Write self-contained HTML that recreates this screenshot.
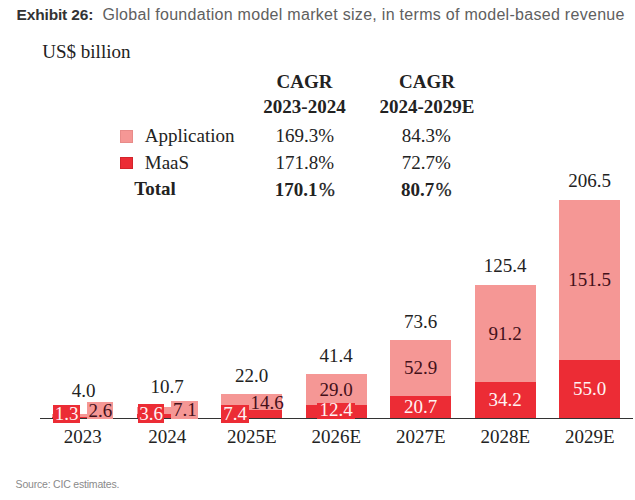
<!DOCTYPE html>
<html><head><meta charset="utf-8"><style>
html,body{margin:0;padding:0;background:#fff;}
body{width:635px;height:500px;position:relative;overflow:hidden;}
.t{position:absolute;white-space:nowrap;}
.r{position:absolute;}
</style></head><body>
<div class="t" style="left:16.50px;top:7.08px;font-size:15.5px;line-height:15.5px;font-family:'Liberation Sans', sans-serif;font-weight:normal;color:#222;letter-spacing:-0.15px;"><b style="color:#333">Exhibit 26:</b></div>
<div class="t" style="left:102.50px;top:6.66px;font-size:16px;line-height:16px;font-family:'Liberation Sans', sans-serif;font-weight:normal;color:#606060;letter-spacing:0.29px;">Global foundation model market size, in terms of model-based revenue</div>
<div class="t" style="left:42.30px;top:41.79px;font-size:19px;line-height:19px;font-family:'Liberation Serif', serif;font-weight:normal;color:#222;">US$ billion</div>
<div class="t" style="left:104.50px;width:400px;text-align:center;top:71.59px;font-size:19px;line-height:19px;font-family:'Liberation Serif', serif;font-weight:bold;color:#222;">CAGR</div>
<div class="t" style="left:104.50px;width:400px;text-align:center;top:97.39px;font-size:19px;line-height:19px;font-family:'Liberation Serif', serif;font-weight:bold;color:#222;">2023-2024</div>
<div class="t" style="left:227.00px;width:400px;text-align:center;top:71.59px;font-size:19px;line-height:19px;font-family:'Liberation Serif', serif;font-weight:bold;color:#222;">CAGR</div>
<div class="t" style="left:227.00px;width:400px;text-align:center;top:97.39px;font-size:19px;line-height:19px;font-family:'Liberation Serif', serif;font-weight:bold;color:#222;">2024-2029E</div>
<div class="r" style="left:119.80px;top:129.50px;width:13.00px;height:13.00px;background:#f59795;box-shadow:inset 0 0 0 1px rgba(120,40,40,0.10);"></div>
<div class="r" style="left:119.80px;top:157.00px;width:13.00px;height:12.00px;background:#ec2c35;box-shadow:inset 0 0 0 1px rgba(100,0,0,0.18);"></div>
<div class="t" style="left:144.80px;top:126.09px;font-size:19px;line-height:19px;font-family:'Liberation Serif', serif;font-weight:normal;color:#222;">Application</div>
<div class="t" style="left:144.80px;top:153.09px;font-size:19px;line-height:19px;font-family:'Liberation Serif', serif;font-weight:normal;color:#222;">MaaS</div>
<div class="t" style="left:134.30px;top:178.89px;font-size:19px;line-height:19px;font-family:'Liberation Serif', serif;font-weight:bold;color:#222;">Total</div>
<div class="t" style="left:104.80px;width:400px;text-align:center;top:125.89px;font-size:19px;line-height:19px;font-family:'Liberation Serif', serif;font-weight:normal;color:#222;">169.3%</div>
<div class="t" style="left:104.80px;width:400px;text-align:center;top:152.89px;font-size:19px;line-height:19px;font-family:'Liberation Serif', serif;font-weight:normal;color:#222;">171.8%</div>
<div class="t" style="left:104.80px;width:400px;text-align:center;top:179.69px;font-size:19px;line-height:19px;font-family:'Liberation Serif', serif;font-weight:bold;color:#222;">170.1<span style="font-weight:normal;margin-left:1.5px;-webkit-text-stroke:0.3px">%</span></div>
<div class="t" style="left:226.40px;width:400px;text-align:center;top:125.89px;font-size:19px;line-height:19px;font-family:'Liberation Serif', serif;font-weight:normal;color:#222;">84.3%</div>
<div class="t" style="left:226.40px;width:400px;text-align:center;top:152.89px;font-size:19px;line-height:19px;font-family:'Liberation Serif', serif;font-weight:normal;color:#222;">72.7%</div>
<div class="t" style="left:226.40px;width:400px;text-align:center;top:179.69px;font-size:19px;line-height:19px;font-family:'Liberation Serif', serif;font-weight:bold;color:#222;">80.7<span style="font-weight:normal;margin-left:1.5px;-webkit-text-stroke:0.3px">%</span></div>
<div class="r" style="left:52.10px;top:413.77px;width:61.20px;height:2.86px;background:#f59795;"></div>
<div class="r" style="left:52.10px;top:416.62px;width:61.20px;height:1.38px;background:#ec2c35;"></div>
<div class="t" style="left:-116.30px;width:400px;text-align:center;top:380.79px;font-size:19px;line-height:19px;font-family:'Liberation Serif', serif;font-weight:normal;color:#222;">4.0</div>
<div class="t" style="left:-117.30px;width:400px;text-align:center;top:427.29px;font-size:19px;line-height:19px;font-family:'Liberation Serif', serif;font-weight:normal;color:#222;">2023</div>
<div class="r" style="left:136.60px;top:406.68px;width:61.20px;height:7.51px;background:#f59795;"></div>
<div class="r" style="left:136.60px;top:414.19px;width:61.20px;height:3.81px;background:#ec2c35;"></div>
<div class="t" style="left:-32.80px;width:400px;text-align:center;top:377.49px;font-size:19px;line-height:19px;font-family:'Liberation Serif', serif;font-weight:normal;color:#222;">10.7</div>
<div class="t" style="left:-32.80px;width:400px;text-align:center;top:427.29px;font-size:19px;line-height:19px;font-family:'Liberation Serif', serif;font-weight:normal;color:#222;">2024</div>
<div class="r" style="left:221.10px;top:394.00px;width:61.20px;height:16.17px;background:#f59795;"></div>
<div class="r" style="left:221.10px;top:410.17px;width:61.20px;height:7.83px;background:#ec2c35;"></div>
<div class="t" style="left:51.70px;width:400px;text-align:center;top:365.59px;font-size:19px;line-height:19px;font-family:'Liberation Serif', serif;font-weight:normal;color:#222;">22.0</div>
<div class="t" style="left:51.70px;width:400px;text-align:center;top:427.29px;font-size:19px;line-height:19px;font-family:'Liberation Serif', serif;font-weight:normal;color:#222;">2025E</div>
<div class="r" style="left:305.60px;top:374.20px;width:61.20px;height:30.68px;background:#f59795;"></div>
<div class="r" style="left:305.60px;top:404.88px;width:61.20px;height:13.12px;background:#ec2c35;"></div>
<div class="t" style="left:136.20px;width:400px;text-align:center;top:346.49px;font-size:19px;line-height:19px;font-family:'Liberation Serif', serif;font-weight:normal;color:#222;">41.4</div>
<div class="t" style="left:136.20px;width:400px;text-align:center;top:427.29px;font-size:19px;line-height:19px;font-family:'Liberation Serif', serif;font-weight:normal;color:#222;">2026E</div>
<div class="r" style="left:390.10px;top:340.13px;width:61.20px;height:55.97px;background:#f59795;"></div>
<div class="r" style="left:390.10px;top:396.10px;width:61.20px;height:21.90px;background:#ec2c35;"></div>
<div class="t" style="left:220.70px;width:400px;text-align:center;top:311.69px;font-size:19px;line-height:19px;font-family:'Liberation Serif', serif;font-weight:normal;color:#222;">73.6</div>
<div class="t" style="left:220.70px;width:400px;text-align:center;top:427.29px;font-size:19px;line-height:19px;font-family:'Liberation Serif', serif;font-weight:normal;color:#222;">2027E</div>
<div class="r" style="left:474.60px;top:285.33px;width:61.20px;height:96.49px;background:#f59795;"></div>
<div class="r" style="left:474.60px;top:381.82px;width:61.20px;height:36.18px;background:#ec2c35;"></div>
<div class="t" style="left:305.20px;width:400px;text-align:center;top:256.29px;font-size:19px;line-height:19px;font-family:'Liberation Serif', serif;font-weight:normal;color:#222;">125.4</div>
<div class="t" style="left:305.20px;width:400px;text-align:center;top:427.29px;font-size:19px;line-height:19px;font-family:'Liberation Serif', serif;font-weight:normal;color:#222;">2028E</div>
<div class="r" style="left:559.10px;top:199.52px;width:61.20px;height:160.29px;background:#f59795;"></div>
<div class="r" style="left:559.10px;top:359.81px;width:61.20px;height:58.19px;background:#ec2c35;"></div>
<div class="t" style="left:389.70px;width:400px;text-align:center;top:170.89px;font-size:19px;line-height:19px;font-family:'Liberation Serif', serif;font-weight:normal;color:#222;">206.5</div>
<div class="t" style="left:389.70px;width:400px;text-align:center;top:427.29px;font-size:19px;line-height:19px;font-family:'Liberation Serif', serif;font-weight:normal;color:#222;">2029E</div>
<div class="r" style="left:40.00px;top:417.50px;width:593.00px;height:1.30px;background:#333;"></div>
<div class="t" style="left:136.20px;width:400px;text-align:center;top:379.73px;font-size:19px;line-height:19px;font-family:'Liberation Serif', serif;font-weight:normal;color:#43101a;">29.0</div>
<div class="r" style="left:317.10px;top:403.20px;width:37.70px;height:16.10px;background:#ec2c35;"></div>
<div class="t" style="left:136.00px;width:400px;text-align:center;top:400.49px;font-size:19px;line-height:19px;font-family:'Liberation Serif', serif;font-weight:normal;color:#fff3f3;">12.4</div>
<div class="t" style="left:220.70px;width:400px;text-align:center;top:358.30px;font-size:19px;line-height:19px;font-family:'Liberation Serif', serif;font-weight:normal;color:#43101a;">52.9</div>
<div class="t" style="left:220.70px;width:400px;text-align:center;top:397.24px;font-size:19px;line-height:19px;font-family:'Liberation Serif', serif;font-weight:normal;color:#fff3f3;">20.7</div>
<div class="t" style="left:305.20px;width:400px;text-align:center;top:323.76px;font-size:19px;line-height:19px;font-family:'Liberation Serif', serif;font-weight:normal;color:#43101a;">91.2</div>
<div class="t" style="left:305.20px;width:400px;text-align:center;top:390.10px;font-size:19px;line-height:19px;font-family:'Liberation Serif', serif;font-weight:normal;color:#fff3f3;">34.2</div>
<div class="t" style="left:389.70px;width:400px;text-align:center;top:269.85px;font-size:19px;line-height:19px;font-family:'Liberation Serif', serif;font-weight:normal;color:#43101a;">151.5</div>
<div class="t" style="left:389.70px;width:400px;text-align:center;top:379.09px;font-size:19px;line-height:19px;font-family:'Liberation Serif', serif;font-weight:normal;color:#fff3f3;">55.0</div>
<div class="r" style="left:53.00px;top:404.70px;width:27.40px;height:18.10px;background:#ec2c35;"></div>
<div class="t" style="left:-133.30px;width:400px;text-align:center;top:404.09px;font-size:19px;line-height:19px;font-family:'Liberation Serif', serif;font-weight:normal;color:#fff3f3;">1.3</div>
<div class="r" style="left:87.30px;top:402.10px;width:26.20px;height:17.10px;background:#f59795;"></div>
<div class="t" style="left:-99.60px;width:400px;text-align:center;top:400.89px;font-size:19px;line-height:19px;font-family:'Liberation Serif', serif;font-weight:normal;color:#43101a;">2.6</div>
<div class="r" style="left:137.70px;top:404.30px;width:26.80px;height:18.30px;background:#ec2c35;"></div>
<div class="t" style="left:-48.90px;width:400px;text-align:center;top:404.09px;font-size:19px;line-height:19px;font-family:'Liberation Serif', serif;font-weight:normal;color:#fff3f3;">3.6</div>
<div class="r" style="left:171.30px;top:400.90px;width:27.20px;height:18.10px;background:#f59795;"></div>
<div class="t" style="left:-15.10px;width:400px;text-align:center;top:400.39px;font-size:19px;line-height:19px;font-family:'Liberation Serif', serif;font-weight:normal;color:#43101a;">7.1</div>
<div class="r" style="left:221.10px;top:405.30px;width:28.20px;height:17.30px;background:#ec2c35;"></div>
<div class="t" style="left:35.10px;width:400px;text-align:center;top:404.49px;font-size:19px;line-height:19px;font-family:'Liberation Serif', serif;font-weight:normal;color:#fff3f3;">7.4</div>
<div class="t" style="left:67.20px;width:400px;text-align:center;top:392.69px;font-size:19px;line-height:19px;font-family:'Liberation Serif', serif;font-weight:normal;color:#43101a;">14.6</div>
<div class="t" style="left:15.60px;top:479.31px;font-size:10.5px;line-height:10.5px;font-family:'Liberation Sans', sans-serif;font-weight:normal;color:#8a8a8a;letter-spacing:-0.2px;">Source: CIC estimates.</div>
</body></html>
